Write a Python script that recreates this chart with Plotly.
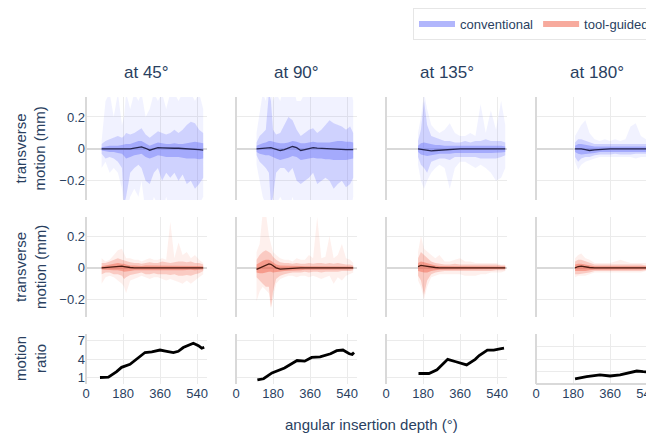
import plotly.graph_objects as go
from plotly.subplots import make_subplots

# ---------------- data ----------------
col_titles = ["at 45°", "at 90°", "at 135°", "at 180°"]
group_names = ["conventional", "tool-guided"]
ratio_baseline = 1

# angular insertion depth samples (deg) per column
x45 = [76, 95, 115, 135, 155, 175, 185, 195, 215, 235, 255, 270, 290, 310, 330, 350, 370, 390, 410, 430, 450, 470, 490, 510, 530, 550, 570]
x90 = [100, 115, 130, 145, 160, 170, 180, 195, 215, 235, 255, 275, 295, 315, 335, 355, 375, 395, 415, 435, 455, 475, 495, 515, 535, 555, 570]
x135 = [156, 170, 185, 200, 220, 240, 260, 285, 310, 335, 360, 385, 410, 435, 460, 485, 510, 535, 560, 580]
x180 = [190, 205, 220, 240, 260, 285, 310, 335, 360, 385, 410, 435, 460, 485, 510, 535, 560, 575]

# conventional, 45 deg (mm)
c45_mean = [0, 0, 0, 0, 0, 0, 0, -0.002, 0, 0.005, 0.011, 0.012, 0.004, -0.008, 0, 0.008, 0.007, 0.005, 0.005, 0.004, 0.004, 0.003, 0.002, 0, -0.002, -0.005, -0.008]
c45_q_hi = [0.01, 0.015, 0.02, 0.02, 0.02, 0.025, 0.03, 0.03, 0.03, 0.04, 0.05, 0.05, 0.035, 0.02, 0.03, 0.04, 0.035, 0.03, 0.03, 0.035, 0.03, 0.03, 0.035, 0.04, 0.045, 0.04, 0.035]
c45_q_lo = [-0.01, -0.015, -0.02, -0.02, -0.025, -0.03, -0.045, -0.06, -0.05, -0.04, -0.035, -0.03, -0.05, -0.06, -0.05, -0.04, -0.045, -0.05, -0.05, -0.05, -0.05, -0.055, -0.06, -0.06, -0.06, -0.065, -0.06]
c45_p_hi = [0.03, 0.05, 0.06, 0.07, 0.08, 0.07, 0.08, 0.1, 0.09, 0.1, 0.12, 0.13, 0.09, 0.07, 0.09, 0.11, 0.1, 0.09, 0.1, 0.12, 0.1, 0.12, 0.15, 0.17, 0.16, 0.12, 0.1]
c45_p_lo = [-0.03, -0.06, -0.05, -0.06, -0.08, -0.12, -0.35, -0.3, -0.15, -0.12, -0.1, -0.12, -0.2, -0.22, -0.15, -0.12, -0.2, -0.15, -0.18, -0.15, -0.2, -0.16, -0.22, -0.2, -0.25, -0.22, -0.18]
c45_max = [0.05, 0.3, 0.35, 0.2, 0.35, 0.15, 0.2, 0.35, 0.25, 0.35, 0.3, 0.35, 0.2, 0.25, 0.35, 0.3, 0.35, 0.25, 0.35, 0.35, 0.3, 0.35, 0.35, 0.35, 0.3, 0.35, 0.25]
c45_min = [-0.12, -0.08, -0.15, -0.12, -0.15, -0.25, -0.4, -0.4, -0.3, -0.25, -0.3, -0.2, -0.4, -0.4, -0.3, -0.35, -0.4, -0.3, -0.4, -0.35, -0.4, -0.35, -0.4, -0.4, -0.4, -0.35, -0.3]

# tool-guided, 45 deg
t45_mean = [0, 0.002, 0.004, 0.008, 0.01, 0.01, 0.008, 0.005, 0.002, 0, 0, 0, 0, 0, 0, 0, 0, 0, 0, 0, 0, 0, 0, 0, 0, 0, 0]
t45_q_hi = [0.01, 0.015, 0.02, 0.025, 0.03, 0.025, 0.025, 0.02, 0.015, 0.015, 0.012, 0.012, 0.015, 0.015, 0.012, 0.012, 0.015, 0.015, 0.015, 0.012, 0.015, 0.015, 0.015, 0.015, 0.015, 0.012, 0.01]
t45_q_lo = [-0.01, -0.012, -0.015, -0.015, -0.015, -0.02, -0.025, -0.025, -0.02, -0.015, -0.015, -0.012, -0.015, -0.015, -0.012, -0.015, -0.015, -0.015, -0.012, -0.015, -0.015, -0.015, -0.015, -0.012, -0.015, -0.012, -0.01]
t45_p_hi = [0.03, 0.03, 0.04, 0.05, 0.06, 0.05, 0.045, 0.04, 0.035, 0.03, 0.03, 0.025, 0.03, 0.035, 0.03, 0.03, 0.04, 0.035, 0.03, 0.035, 0.04, 0.04, 0.035, 0.04, 0.03, 0.03, 0.02]
t45_p_lo = [-0.04, -0.03, -0.03, -0.04, -0.04, -0.05, -0.07, -0.06, -0.045, -0.04, -0.035, -0.03, -0.04, -0.04, -0.035, -0.04, -0.04, -0.04, -0.045, -0.04, -0.05, -0.05, -0.045, -0.05, -0.04, -0.035, -0.02]
t45_max = [0.06, 0.04, 0.05, 0.08, 0.11, 0.12, 0.09, 0.06, 0.06, 0.05, 0.05, 0.04, 0.05, 0.06, 0.05, 0.05, 0.06, 0.05, 0.29, 0.06, 0.16, 0.08, 0.1, 0.06, 0.08, 0.05, 0.03]
t45_min = [-0.1, -0.06, -0.05, -0.06, -0.08, -0.1, -0.12, -0.16, -0.08, -0.07, -0.06, -0.05, -0.06, -0.07, -0.06, -0.06, -0.07, -0.08, -0.07, -0.08, -0.09, -0.1, -0.08, -0.1, -0.08, -0.06, -0.04]

# conventional, 90 deg
c90_mean = [0, 0.002, 0.005, 0.008, 0.01, 0.008, 0.004, -0.004, -0.01, -0.005, 0.006, 0.015, 0.008, -0.01, -0.004, 0.002, 0.008, 0.005, 0.003, 0.002, 0.001, 0, -0.002, -0.004, -0.005, -0.004, -0.005]
c90_q_hi = [0.02, 0.03, 0.035, 0.04, 0.05, 0.05, 0.045, 0.04, 0.035, 0.035, 0.04, 0.05, 0.045, 0.035, 0.035, 0.04, 0.045, 0.04, 0.04, 0.04, 0.04, 0.045, 0.05, 0.05, 0.045, 0.045, 0.04]
c90_q_lo = [-0.02, -0.03, -0.035, -0.04, -0.04, -0.045, -0.05, -0.06, -0.07, -0.065, -0.055, -0.045, -0.05, -0.07, -0.065, -0.06, -0.055, -0.06, -0.06, -0.065, -0.065, -0.07, -0.07, -0.07, -0.07, -0.065, -0.06]
c90_p_hi = [0.04, 0.08, 0.1, 0.12, 0.35, 0.3, 0.12, 0.09, 0.1, 0.15, 0.2, 0.18, 0.12, 0.08, 0.1, 0.12, 0.13, 0.1, 0.12, 0.15, 0.18, 0.16, 0.15, 0.14, 0.12, 0.14, 0.1]
c90_p_lo = [-0.04, -0.08, -0.1, -0.12, -0.15, -0.35, -0.3, -0.15, -0.12, -0.12, -0.15, -0.12, -0.2, -0.22, -0.2, -0.18, -0.15, -0.22, -0.2, -0.18, -0.2, -0.25, -0.22, -0.2, -0.24, -0.22, -0.18]
c90_max = [0.1, 0.25, 0.35, 0.3, 0.4, 0.4, 0.3, 0.35, 0.3, 0.4, 0.35, 0.4, 0.3, 0.3, 0.35, 0.4, 0.35, 0.4, 0.35, 0.4, 0.35, 0.4, 0.4, 0.35, 0.35, 0.4, 0.3]
c90_min = [-0.1, -0.2, -0.3, -0.35, -0.35, -0.4, -0.4, -0.35, -0.3, -0.35, -0.4, -0.3, -0.4, -0.4, -0.35, -0.4, -0.35, -0.4, -0.4, -0.35, -0.4, -0.4, -0.4, -0.35, -0.4, -0.4, -0.3]

# tool-guided, 90 deg
t90_mean = [-0.01, 0.0, 0.01, 0.02, 0.025, 0.022, 0.015, 0.0, -0.008, -0.006, -0.003, 0, 0, 0, 0, 0, 0, 0, 0, 0, 0, 0, 0, 0, 0, 0, 0]
t90_q_hi = [0.02, 0.035, 0.045, 0.05, 0.05, 0.045, 0.035, 0.02, 0.015, 0.015, 0.012, 0.012, 0.012, 0.012, 0.01, 0.01, 0.012, 0.012, 0.01, 0.01, 0.01, 0.01, 0.01, 0.01, 0.01, 0.01, 0.008]
t90_q_lo = [-0.03, -0.035, -0.035, -0.03, -0.025, -0.025, -0.03, -0.03, -0.025, -0.02, -0.018, -0.015, -0.015, -0.015, -0.012, -0.012, -0.012, -0.012, -0.012, -0.01, -0.01, -0.01, -0.01, -0.01, -0.01, -0.01, -0.008]
t90_p_hi = [0.05, 0.08, 0.1, 0.11, 0.1, 0.09, 0.07, 0.05, 0.035, 0.03, 0.03, 0.025, 0.03, 0.025, 0.025, 0.03, 0.025, 0.03, 0.03, 0.025, 0.03, 0.025, 0.03, 0.025, 0.02, 0.02, 0.015]
t90_p_lo = [-0.06, -0.08, -0.1, -0.12, -0.12, -0.25, -0.15, -0.07, -0.05, -0.04, -0.035, -0.03, -0.03, -0.03, -0.025, -0.03, -0.025, -0.025, -0.03, -0.025, -0.025, -0.025, -0.025, -0.02, -0.02, -0.02, -0.015]
t90_max = [0.1, 0.15, 0.35, 0.35, 0.2, 0.15, 0.1, 0.08, 0.06, 0.05, 0.05, 0.04, 0.06, 0.05, 0.05, 0.08, 0.06, 0.32, 0.06, 0.07, 0.2, 0.06, 0.08, 0.15, 0.06, 0.05, 0.03]
t90_min = [-0.21, -0.15, -0.12, -0.14, -0.16, -0.26, -0.2, -0.1, -0.07, -0.06, -0.05, -0.05, -0.06, -0.05, -0.05, -0.06, -0.05, -0.06, -0.07, -0.06, -0.05, -0.1, -0.06, -0.08, -0.05, -0.04, -0.03]

# conventional, 135 deg
c135_mean = [0, -0.003, -0.006, -0.01, -0.012, -0.01, -0.008, -0.005, -0.003, -0.002, 0, 0, 0, 0, 0, 0, 0, 0, 0, 0]
c135_q_hi = [0.02, 0.035, 0.04, 0.035, 0.03, 0.025, 0.025, 0.02, 0.02, 0.02, 0.018, 0.018, 0.02, 0.02, 0.02, 0.02, 0.02, 0.02, 0.02, 0.015]
c135_q_lo = [-0.02, -0.035, -0.04, -0.045, -0.04, -0.035, -0.03, -0.03, -0.03, -0.025, -0.022, -0.022, -0.022, -0.022, -0.025, -0.025, -0.025, -0.025, -0.022, -0.02]
c135_p_hi = [0.05, 0.12, 0.3, 0.15, 0.08, 0.07, 0.06, 0.05, 0.05, 0.04, 0.04, 0.05, 0.04, 0.05, 0.05, 0.06, 0.05, 0.05, 0.05, 0.04]
c135_p_lo = [-0.05, -0.1, -0.12, -0.15, -0.08, -0.07, -0.06, -0.06, -0.07, -0.05, -0.05, -0.05, -0.05, -0.05, -0.06, -0.06, -0.06, -0.06, -0.05, -0.04]
c135_max = [0.1, 0.2, 0.35, 0.25, 0.15, 0.12, 0.1, 0.12, 0.16, 0.1, 0.08, 0.08, 0.1, 0.08, 0.28, 0.1, 0.24, 0.12, 0.3, 0.15]
c135_min = [-0.1, -0.2, -0.25, -0.2, -0.15, -0.12, -0.1, -0.12, -0.25, -0.12, -0.08, -0.08, -0.1, -0.12, -0.1, -0.12, -0.15, -0.2, -0.18, -0.12]

# tool-guided, 135 deg
t135_mean = [0.008, 0.015, 0.012, 0.008, 0.004, 0.002, 0, 0, 0, 0, 0, 0, 0, 0, 0, 0, 0, 0, 0, 0]
t135_q_hi = [0.03, 0.04, 0.035, 0.03, 0.02, 0.015, 0.012, 0.01, 0.01, 0.01, 0.01, 0.01, 0.01, 0.01, 0.01, 0.01, 0.01, 0.01, 0.008, 0.008]
t135_q_lo = [-0.02, -0.025, -0.03, -0.03, -0.02, -0.015, -0.012, -0.01, -0.01, -0.01, -0.01, -0.01, -0.01, -0.01, -0.01, -0.01, -0.01, -0.008, -0.008, -0.008]
t135_p_hi = [0.06, 0.1, 0.08, 0.06, 0.04, 0.03, 0.025, 0.02, 0.02, 0.025, 0.02, 0.02, 0.02, 0.02, 0.02, 0.02, 0.02, 0.02, 0.015, 0.015]
t135_p_lo = [-0.05, -0.08, -0.17, -0.08, -0.04, -0.03, -0.025, -0.02, -0.02, -0.02, -0.02, -0.02, -0.02, -0.02, -0.02, -0.02, -0.02, -0.015, -0.015, -0.015]
t135_max = [0.1, 0.2, 0.12, 0.1, 0.08, 0.06, 0.08, 0.04, 0.04, 0.05, 0.06, 0.04, 0.04, 0.03, 0.03, 0.03, 0.03, 0.03, 0.02, 0.02]
t135_min = [-0.08, -0.12, -0.2, -0.12, -0.06, -0.05, -0.04, -0.04, -0.04, -0.04, -0.04, -0.05, -0.05, -0.05, -0.04, -0.04, -0.03, -0.03, -0.03, -0.02]

# conventional, 180 deg
c180_mean = [0, 0.002, 0, -0.005, -0.01, -0.006, -0.003, -0.002, 0, 0, 0, 0, 0, 0, 0, 0, 0, 0]
c180_q_hi = [0.02, 0.03, 0.03, 0.025, 0.02, 0.015, 0.015, 0.015, 0.015, 0.015, 0.015, 0.015, 0.015, 0.015, 0.015, 0.015, 0.015, 0.015]
c180_q_lo = [-0.02, -0.03, -0.035, -0.03, -0.03, -0.025, -0.02, -0.02, -0.02, -0.02, -0.02, -0.02, -0.02, -0.02, -0.02, -0.02, -0.02, -0.02]
c180_p_hi = [0.04, 0.06, 0.06, 0.05, 0.04, 0.03, 0.03, 0.03, 0.03, 0.03, 0.03, 0.03, 0.03, 0.03, 0.03, 0.03, 0.03, 0.03]
c180_p_lo = [-0.05, -0.08, -0.06, -0.05, -0.05, -0.04, -0.035, -0.035, -0.035, -0.03, -0.035, -0.035, -0.035, -0.03, -0.03, -0.03, -0.03, -0.03]
c180_max = [0.08, 0.12, 0.15, 0.18, 0.1, 0.06, 0.05, 0.06, 0.05, 0.06, 0.05, 0.06, 0.14, 0.16, 0.08, 0.06, 0.05, 0.2]
c180_min = [-0.08, -0.13, -0.1, -0.08, -0.07, -0.06, -0.05, -0.05, -0.05, -0.05, -0.05, -0.05, -0.05, -0.06, -0.05, -0.05, -0.05, -0.15]

# tool-guided, 180 deg
t180_mean = [0, 0.008, 0.01, 0.005, 0.002, 0, 0, 0, 0, 0, 0, 0, 0, 0, 0, 0, 0, 0]
t180_q_hi = [0.02, 0.025, 0.025, 0.02, 0.015, 0.01, 0.01, 0.01, 0.01, 0.01, 0.01, 0.01, 0.01, 0.01, 0.01, 0.01, 0.01, 0.01]
t180_q_lo = [-0.02, -0.02, -0.02, -0.02, -0.015, -0.012, -0.01, -0.01, -0.01, -0.01, -0.01, -0.01, -0.01, -0.01, -0.01, -0.01, -0.01, -0.01]
t180_p_hi = [0.04, 0.05, 0.05, 0.04, 0.03, 0.02, 0.02, 0.02, 0.02, 0.02, 0.02, 0.02, 0.02, 0.02, 0.02, 0.015, 0.015, 0.015]
t180_p_lo = [-0.04, -0.04, -0.04, -0.035, -0.03, -0.02, -0.02, -0.02, -0.02, -0.02, -0.02, -0.02, -0.02, -0.02, -0.02, -0.015, -0.015, -0.015]
t180_max = [0.06, 0.08, 0.09, 0.06, 0.05, 0.03, 0.03, 0.03, 0.03, 0.04, 0.05, 0.04, 0.03, 0.03, 0.03, 0.03, 0.02, 0.02]
t180_min = [-0.06, -0.05, -0.05, -0.05, -0.04, -0.03, -0.03, -0.03, -0.03, -0.03, -0.03, -0.03, -0.03, -0.03, -0.03, -0.02, -0.02, -0.02]

# motion ratio (conventional / tool-guided)
r45_x = [68, 109, 149, 173, 214, 247, 287, 320, 360, 393, 425, 449, 473, 522, 547, 563, 575]
r45 = [1.05, 1.1, 2.0, 2.7, 3.2, 4.0, 5.1, 5.2, 5.5, 5.3, 5.1, 5.3, 5.9, 6.6, 6.2, 5.8, 5.95]
r90_x = [104, 134, 175, 236, 297, 334, 368, 409, 460, 490, 520, 551, 565, 574]
r90 = [0.65, 0.85, 1.8, 2.6, 3.8, 3.7, 4.3, 4.4, 4.9, 5.4, 5.5, 4.9, 4.8, 5.1]
r135_x = [158, 209, 248, 300, 340, 392, 434, 453, 493, 524, 554, 574]
r135 = [1.7, 1.7, 2.3, 4.0, 3.6, 3.1, 4.0, 4.6, 5.5, 5.5, 5.7, 5.8]
r180_x = [190, 246, 311, 360, 409, 441, 490, 521, 554, 575]
r180 = [0.84, 1.2, 1.48, 1.3, 1.48, 1.75, 2.1, 2.0, 1.9, 1.9]

# ---------------- figure ----------------
BLUE = "99,110,250"
RED = "239,85,59"

fig = make_subplots(rows=3, cols=4)

def band(x, lo, hi, rgb, alpha, row, col):
    fig.add_trace(go.Scatter(
        x=list(x) + list(x)[::-1], y=list(hi) + list(lo)[::-1],
        fill="toself", fillcolor=f"rgba({rgb},{alpha})",
        mode="lines", line=dict(width=0), hoverinfo="skip", showlegend=False),
        row=row, col=col)

def motion_panel(x, mean, qlo, qhi, plo, phi, mn, mx, rgb, mean_color, row, col):
    band(x, mn, mx, rgb, 0.09, row, col)
    band(x, plo, phi, rgb, 0.24, row, col)
    band(x, qlo, qhi, rgb, 0.40, row, col)
    fig.add_trace(go.Scatter(x=x, y=mean, mode="lines",
                             line=dict(color=mean_color, width=1.3),
                             hoverinfo="skip", showlegend=False), row=row, col=col)

xs = [x45, x90, x135, x180]
conv = [
    (c45_mean, c45_q_lo, c45_q_hi, c45_p_lo, c45_p_hi, c45_min, c45_max),
    (c90_mean, c90_q_lo, c90_q_hi, c90_p_lo, c90_p_hi, c90_min, c90_max),
    (c135_mean, c135_q_lo, c135_q_hi, c135_p_lo, c135_p_hi, c135_min, c135_max),
    (c180_mean, c180_q_lo, c180_q_hi, c180_p_lo, c180_p_hi, c180_min, c180_max),
]
tool = [
    (t45_mean, t45_q_lo, t45_q_hi, t45_p_lo, t45_p_hi, t45_min, t45_max),
    (t90_mean, t90_q_lo, t90_q_hi, t90_p_lo, t90_p_hi, t90_min, t90_max),
    (t135_mean, t135_q_lo, t135_q_hi, t135_p_lo, t135_p_hi, t135_min, t135_max),
    (t180_mean, t180_q_lo, t180_q_hi, t180_p_lo, t180_p_hi, t180_min, t180_max),
]
ratios = [(r45_x, r45), (r90_x, r90), (r135_x, r135), (r180_x, r180)]

for c in range(4):
    motion_panel(xs[c], *conv[c], BLUE, "#262650", 1, c + 1)
    motion_panel(xs[c], *tool[c], RED, "#4a1c12", 2, c + 1)
    fig.add_hline(y=ratio_baseline, line=dict(color="#aaaaaa", width=1, dash="dash"), row=3, col=c + 1)
    fig.add_trace(go.Scatter(x=ratios[c][0], y=ratios[c][1], mode="lines",
                             line=dict(color="black", width=2.8),
                             hoverinfo="skip", showlegend=False), row=3, col=c + 1)

# legend entries
fig.add_trace(go.Scatter(x=[None], y=[None], mode="lines", name=group_names[0],
                         line=dict(color=f"rgba({BLUE},0.5)", width=6)), row=1, col=1)
fig.add_trace(go.Scatter(x=[None], y=[None], mode="lines", name=group_names[1],
                         line=dict(color=f"rgba({RED},0.5)", width=6)), row=1, col=1)

# ---------------- layout ----------------
# (page is shown with an 8 px body offset, so figure px = screen px - 8)
W, H = 654, 436
ML, MR, MT, MB = 78, 5, 89, 60
PW, PH = W - ML - MR, H - MT - MB
col_px = [(78, 199), (228, 349), (378, 499), (528, 649)]
row_px = [(89, 192), (209, 309), (326, 376)]
X_RANGE = [0, 588.5]

GRID = "#ebebeb"
ZERO = "#d9d9d9"
for r in range(3):
    for c in range(4):
        a, b = col_px[c]
        top, bot = row_px[r]
        fig.update_xaxes(domain=[(a - ML) / PW, (b - ML) / PW],
                         range=X_RANGE, dtick=180, tick0=0,
                         showticklabels=(r == 2), gridcolor=GRID,
                         zeroline=True, zerolinecolor=ZERO, zerolinewidth=2,
                         row=r + 1, col=c + 1)
        ydom = [1 - (bot - MT) / PH, 1 - (top - MT) / PH]
        if r == 0:
            yk = dict(range=[-0.32, 0.325], tickvals=[-0.2, 0, 0.2], ticktext=["−0.2", "0", "0.2"])
        elif r == 1:
            yk = dict(range=[-0.31, 0.32], tickvals=[-0.2, 0, 0.2], ticktext=["−0.2", "0", "0.2"])
        else:
            if c < 3:
                yk = dict(range=[0, 8.1], tickvals=[1, 4, 7], zeroline=False)
            else:
                yk = dict(range=[0, 8.1], dtick=2, zeroline=True)
        fig.update_yaxes(domain=ydom, showticklabels=(c == 0), gridcolor=GRID,
                         zerolinecolor=ZERO, zerolinewidth=2, **yk,
                         row=r + 1, col=c + 1)

annotations = []
for c in range(4):
    a, b = col_px[c]
    annotations.append(dict(text=col_titles[c], xref="paper", yref="paper",
                            x=((a + b) / 2 - ML) / PW, y=1 + (MT - 64) / PH,
                            xanchor="center", yanchor="middle", showarrow=False,
                            font=dict(size=17)))
ylabels = ["transverse<br>motion (mm)", "transverse<br>motion (mm)", "motion<br>ratio"]
for r in range(3):
    top, bot = row_px[r]
    annotations.append(dict(text=ylabels[r], xref="paper", yref="paper",
                            x=(22 - ML) / PW, y=1 - ((top + bot) / 2 - MT) / PH,
                            xanchor="center", yanchor="middle", textangle=-90,
                            showarrow=False, font=dict(size=15)))
annotations.append(dict(text="angular insertion depth (°)", xref="paper", yref="paper",
                        x=(363 - ML) / PW, y=-(416 - (H - MB)) / PH,
                        xanchor="center", yanchor="middle", showarrow=False,
                        font=dict(size=15)))

fig.update_layout(
    template="plotly_white",
    width=W, height=H,
    margin=dict(l=ML, r=MR, t=MT, b=MB, autoexpand=False),
    font=dict(family="Liberation Sans, Arial, sans-serif", size=13, color="#2a3f5f"),
    plot_bgcolor="white", paper_bgcolor="white",
    annotations=annotations,
    showlegend=True,
    legend=dict(orientation="h", x=(405 - ML) / PW, xanchor="left",
                y=1 + (MT - 0) / PH, yanchor="top", itemwidth=36,
                bordercolor="#e6e6e6", borderwidth=1, bgcolor="white",
                font=dict(size=13)),
)

fig.write_html("out.html")
